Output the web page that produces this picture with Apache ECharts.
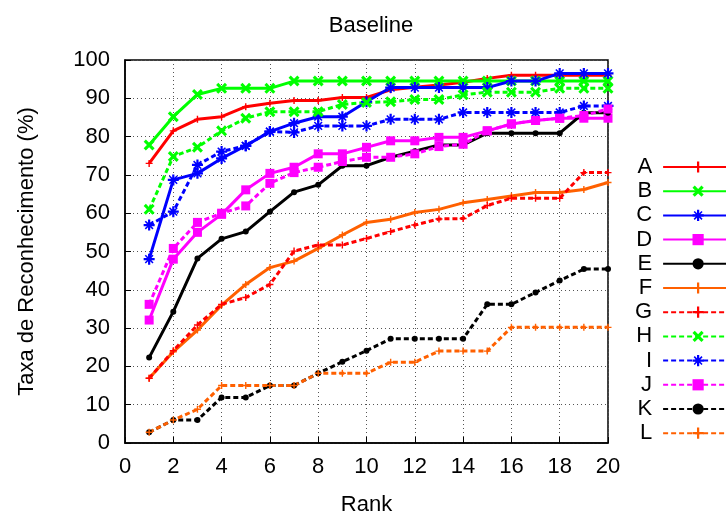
<!DOCTYPE html>
<html>
<head>
<meta charset="utf-8">
<script src="https://cdn.jsdelivr.net/npm/echarts@6/dist/echarts.min.js"></script>
<style>
  html, body { margin: 0; padding: 0; background: #fff; }
  #main { width: 726px; height: 516px; }
</style>
</head>
<body>
<div id="main"></div>
<script>
var ranks = [1,2,3,4,5,6,7,8,9,10,11,12,13,14,15,16,17,18,19,20];

var A = [73.0,81.5,84.5,85.2,87.8,88.7,89.4,89.4,90.2,90.2,92.2,92.9,93.5,94.2,95.2,96.0,96.0,96.0,96.0,96.0];
var B = [77.8,85.2,91.0,92.6,92.6,92.6,94.5,94.5,94.5,94.5,94.5,94.5,94.5,94.5,94.5,94.5,94.5,94.5,94.5,94.5];
var C = [48.0,68.7,70.4,74.3,77.6,81.3,83.5,85.2,85.2,89.1,92.8,92.8,92.8,92.8,92.8,94.5,94.5,96.5,96.5,96.5];
var D = [32.1,48.0,55.0,59.7,66.1,70.4,72.0,75.5,75.5,77.2,78.9,78.9,79.8,79.8,81.5,83.3,84.2,84.8,84.8,84.8];
var E = [22.3,34.3,48.2,53.3,55.2,60.4,65.5,67.4,72.4,72.4,74.6,76.2,77.8,77.8,80.9,80.9,80.9,80.9,86.2,86.2];
var F = [16.9,23.8,29.5,36.0,41.4,45.8,47.5,50.8,54.3,57.6,58.4,60.2,61.0,62.7,63.6,64.5,65.4,65.4,66.2,68.0];
var G = [16.9,24.1,30.8,36.2,38.0,41.4,50.1,51.7,51.7,53.4,55.2,56.9,58.5,58.6,62.0,63.9,63.9,63.9,70.6,70.6];
var H = [61.0,74.8,77.2,81.5,84.8,86.5,86.5,86.5,88.4,88.9,89.1,89.7,89.7,90.9,91.6,91.6,91.6,92.6,92.6,92.6];
var I = [56.9,60.4,72.6,76.1,77.6,81.3,81.1,82.8,82.8,82.8,84.5,84.5,84.5,86.3,86.3,86.3,86.3,86.3,88.0,88.0];
var J = [36.2,50.8,57.6,60.0,61.9,67.8,70.6,72.0,73.5,74.6,74.6,75.5,77.4,78.0,81.5,83.3,84.2,84.8,85.5,87.2];
var K = [2.8,6.0,6.0,11.9,11.9,15.0,15.0,18.2,21.2,24.1,27.2,27.2,27.2,27.2,36.2,36.2,39.3,42.4,45.4,45.4];
var L = [2.8,6.0,8.8,15.0,15.0,15.0,15.0,18.2,18.2,18.2,21.1,21.1,24.0,24.0,24.0,30.2,30.2,30.2,30.2,30.2];

var names = ['A','B','C','D','E','F','G','H','I','J','K','L'];
var values = [A,B,C,D,E,F,G,H,I,J,K,L];
var colors = ['#ff0000','#00ff00','#0000ff','#ff00ff','#000000','#ff6000',
              '#ff0000','#00ff00','#0000ff','#ff00ff','#000000','#ff6000'];

// gnuplot-like point shapes
var plusSym = 'path://M4,0 H6 V4 H10 V6 H6 V10 H4 V6 H0 V4 H4 Z';
var crossSym = 'path://M0,2 L2,0 L5,3 L8,0 L10,2 L7,5 L10,8 L8,10 L5,7 L2,10 L0,8 L3,5 Z';
var starSym = 'path://M4,0 H6 V3 L8,1 L9,2 L7,4 H10 V6 H7 L9,8 L8,9 L6,7 V10 H4 V7 L2,9 L1,8 L3,6 H0 V4 H3 L1,2 L2,1 L4,3 Z';
var symbols = [plusSym, crossSym, starSym, 'rect', 'circle', plusSym];
var symSizes = [7, 11, 11, 9, 6, 7];

var series = names.map(function (n, i) {
  var k = i % 6;
  return {
    name: n,
    type: 'line',
    data: ranks.map(function (r, j) { return [r, values[i][j]]; }),
    symbol: symbols[k],
    symbolSize: symSizes[k],
    showAllSymbol: true,
    color: colors[i],
    lineStyle: { width: 3, type: i < 6 ? 'solid' : [5, 3], color: colors[i] },
    itemStyle: { color: colors[i] },
    emphasis: { disabled: true },
    animation: false
  };
});

var chart = echarts.init(document.getElementById('main'));
chart.setOption({
  animation: false,
  textStyle: { fontFamily: 'Liberation Sans' },
  title: {
    text: 'Baseline',
    left: 366,
    top: 10,
    textAlign: 'center',
    textStyle: { fontSize: 22, fontWeight: 'normal', color: '#000', fontFamily: 'Liberation Sans' }
  },
  legend: {
    orient: 'vertical',
    left: 630,
    top: 151,
    align: 'right',
    itemWidth: 70,
    itemHeight: 14,
    itemGap: 2.2,
    textStyle: { fontSize: 22, lineHeight: 20, color: '#000', fontFamily: 'Liberation Sans', padding: [0, 6, 0, 0] },
    data: names
  },
  grid: {
    left: 125, right: 118, top: 60, bottom: 73,
    outerBoundsMode: 'none',
    containLabel: false,
    show: true, borderColor: '#000', borderWidth: 1.5, backgroundColor: 'transparent'
  },
  xAxis: {
    type: 'value',
    min: 0, max: 20, interval: 2,
    name: 'Rank',
    nameLocation: 'middle',
    nameGap: 51,
    nameTextStyle: { fontSize: 22, color: '#000', fontFamily: 'Liberation Sans' },
    axisLine: { show: true, lineStyle: { color: '#000', width: 1.5 } },
    axisTick: { show: true, inside: true, length: 6, lineStyle: { color: '#000' } },
    axisLabel: { fontSize: 22, color: '#000', margin: 13 },
    splitLine: { show: true, lineStyle: { color: '#555', type: [1, 3], width: 1 } }
  },
  yAxis: {
    type: 'value',
    min: 0, max: 100, interval: 10,
    name: 'Taxa de Reconhecimento (%)',
    nameLocation: 'middle',
    nameGap: 87,
    nameTextStyle: { fontSize: 22, color: '#000', fontFamily: 'Liberation Sans' },
    axisLine: { show: true, lineStyle: { color: '#000', width: 1.5 } },
    axisTick: { show: true, inside: true, length: 6, lineStyle: { color: '#000' } },
    axisLabel: { fontSize: 22, color: '#000', margin: 15 },
    splitLine: { show: true, lineStyle: { color: '#555', type: [1, 3], width: 1 } }
  },
  series: series
});
</script>
</body>
</html>
